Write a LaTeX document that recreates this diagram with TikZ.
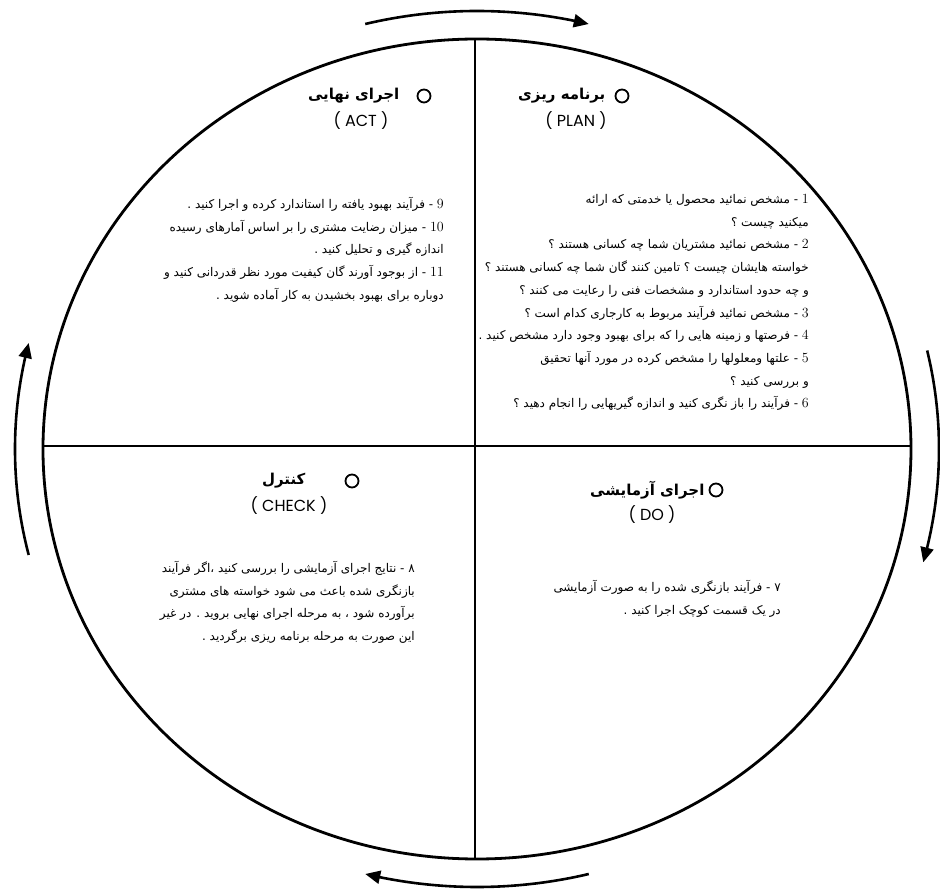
\documentclass[tikz,border=0pt]{standalone}
\usepackage{fontspec}
\usetikzlibrary{arrows.meta, bending, positioning}
\TeXXeTstate=1
\newfontfamily\arabicfont[Script=Arabic]{DejaVu Sans}
\newfontfamily\tagfont{Poppins}
\newcommand\fa[1]{\beginR#1\endR}
\newcommand\nr[1]{{\normalfont\fontsize{14}{16}\selectfont\beginL#1\endL}}

\begin{document}
\begin{tikzpicture}[x=1pt, y=1pt,
  ringmark/.style={circle, draw, line width=1.8pt, minimum size=13pt, inner sep=0pt},
  headtxt/.style={inner sep=0pt, font=\arabicfont\bfseries\fontsize{15}{17}\selectfont},
  tagtxt/.style={inner sep=0pt, font=\tagfont\fontsize{16}{18}\selectfont},
  bodytxt/.style={inner sep=0pt, align=right, anchor=north east, font=\arabicfont\fontsize{12}{22.7}\selectfont}]
  \useasboundingbox (-477,-447) rectangle (463,449);

  % wheel and cross
  \draw[line width=2.8pt] (0,0) ellipse [x radius=434, y radius=410];
  \coordinate (top) at (-2,410);
  \coordinate (bot) at (-2,-410);
  \coordinate (lft) at (-434,3);
  \coordinate (rgt) at (434,3);
  \draw[line width=2.3pt] (top) -- (bot);
  \draw[line width=2.3pt] (lft) -- (rgt);

  % cycle arrows
  \foreach \s/\e in {104/76, 13/-15, -76/-104, 194/166} {
    \draw[line width=2.6pt, -{Triangle[length=15pt, width=13pt]}]
      ({462*cos(\s)},{438*sin(\s)}) arc[start angle=\s, end angle=\e, x radius=462, y radius=438];
  }

  % PLAN
  \node[ringmark] (planmark) at (145,353) {};
  \node[headtxt, left=9pt of planmark] (planhead) {\fa{برنامه ریزی}};
  \node[tagtxt] (plantag) at (99,328) {( PLAN )};
  \node[bodytxt] (plantxt) at (332,255) {%
    \fa{\nr{1} - مشخص نمائید محصول یا خدمتی که ارائه}\\
    \fa{میکنید چیست ؟}\\
    \fa{\nr{2} - مشخص نمائید مشتریان شما چه کسانی هستند ؟}\\
    \fa{خواسته هایشان چیست ؟ تامین کنند گان شما چه کسانی هستند ؟}\\
    \fa{و چه حدود استاندارد و مشخصات فنی را رعایت می کنند ؟}\\
    \fa{\nr{3} - مشخص نمائید فرآیند مربوط به کارجاری کدام است ؟}\\
    \fa{\nr{4} - فرصتها و زمینه هایی را که برای بهبود وجود دارد  مشخص کنید .}\\
    \fa{\nr{5} - علتها ومعلولها را مشخص کرده در مورد آنها تحقیق}\\
    \fa{و بررسی کنید ؟}\\
    \fa{\nr{6} - فرآیند را باز نگری کنید و اندازه گیریهایی را انجام دهید ؟}};

  % ACT
  \node[ringmark] (actmark) at (-53,353) {};
  \node[headtxt, left=17pt of actmark] (acthead) {\fa{اجرای نهایی}};
  \node[tagtxt] (acttag) at (-116,328) {( ACT )};
  \node[bodytxt] (acttxt) at (-33,252) {%
    \fa{\nr{9} - فرآیند بهبود یافته را استاندارد کرده و اجرا کنید .}\\
    \fa{\nr{10} - میزان رضایت مشتری را بر اساس آمارهای رسیده}\\
    \fa{اندازه گیری و تحلیل کنید .}\\
    \fa{\nr{11} - از بوجود آورند گان کیفیت مورد نظر قدردانی کنید و}\\
    \fa{دوباره برای بهبود بخشیدن به کار آماده شوید .}};

  % CHECK
  \node[ringmark] (checkmark) at (-125,-32) {};
  \node[headtxt, left=39pt of checkmark] (checkhead) {\fa{کنترل}};
  \node[tagtxt] (checktag) at (-188,-57) {( CHECK )};
  \node[bodytxt] (checktxt) at (-62,-112) {%
    \fa{۸ - نتایج اجرای آزمایشی را بررسی کنید ،اگر فرآیند}\\
    \fa{بازنگری شده باعث می شود خواسته های مشتری}\\
    \fa{برآورده شود ، به مرحله اجرای نهایی بروید . در غیر}\\
    \fa{این صورت به مرحله برنامه ریزی برگردید .}};

  % DO
  \node[ringmark] (domark) at (239,-41) {};
  \node[headtxt, left=4pt of domark] (dohead) {\fa{اجرای آزمایشی}};
  \node[tagtxt] (dotag) at (175,-66) {( DO )};
  \node[bodytxt] (dotxt) at (304,-131) {%
    \fa{۷ - فرآیند بازنگری شده را به صورت آزمایشی}\\
    \fa{در یک قسمت کوچک اجرا کنید .}};
\end{tikzpicture}
\end{document}
